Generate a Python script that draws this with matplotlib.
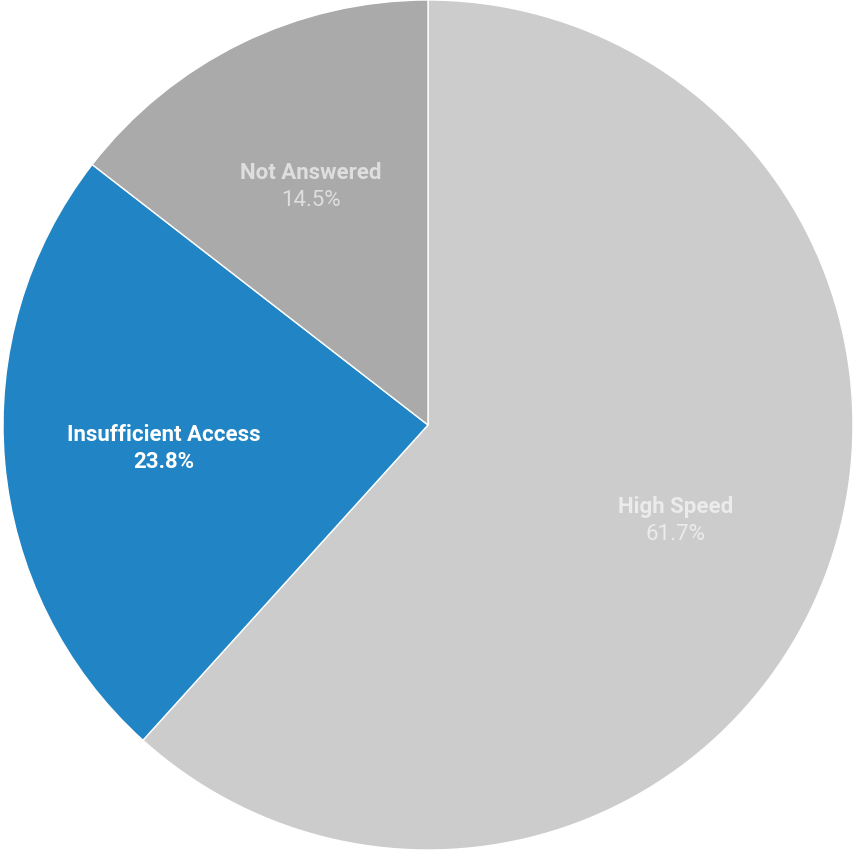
import numpy as np
import matplotlib.pyplot as plt

labels = ['High Speed', 'Insufficient Access', 'Not Answered']
values = [61.7, 23.8, 14.5]
colors = ['#cccccc', '#2185c5', '#aaaaaa']
text_colors = ['#ebebeb', '#ffffff', '#dedede']
pct_bold = [False, True, False]

plt.rcParams['font.family'] = ['Roboto', 'DejaVu Sans']

fig = plt.figure(figsize=(8.55, 8.5), dpi=100)
ax = fig.add_axes([0, 0, 1, 1])

wedges, _ = ax.pie(values, colors=colors, startangle=90, counterclock=False,
                   radius=1.0, center=(0, 0),
                   wedgeprops=dict(edgecolor='white', linewidth=1))

for w, lab, v, tc, pb in zip(wedges, labels, values, text_colors, pct_bold):
    mid = np.deg2rad((w.theta1 + w.theta2) / 2)
    x = 0.625 * np.cos(mid)
    y = 0.625 * np.sin(mid)
    ax.text(x, y + 0.032, lab, ha='center', va='center', fontsize=16,
            fontweight='bold', color=tc)
    ax.text(x, y - 0.032, f'{v:.1f}%', ha='center', va='center', fontsize=16,
            fontweight='bold' if pb else 'normal', color=tc)

ax.set_xlim(-428 / 425, 427 / 425)
ax.set_ylim(-1, 1)
ax.set_aspect('auto')
ax.axis('off')

fig.savefig('out.png', dpi=100, facecolor='white')
